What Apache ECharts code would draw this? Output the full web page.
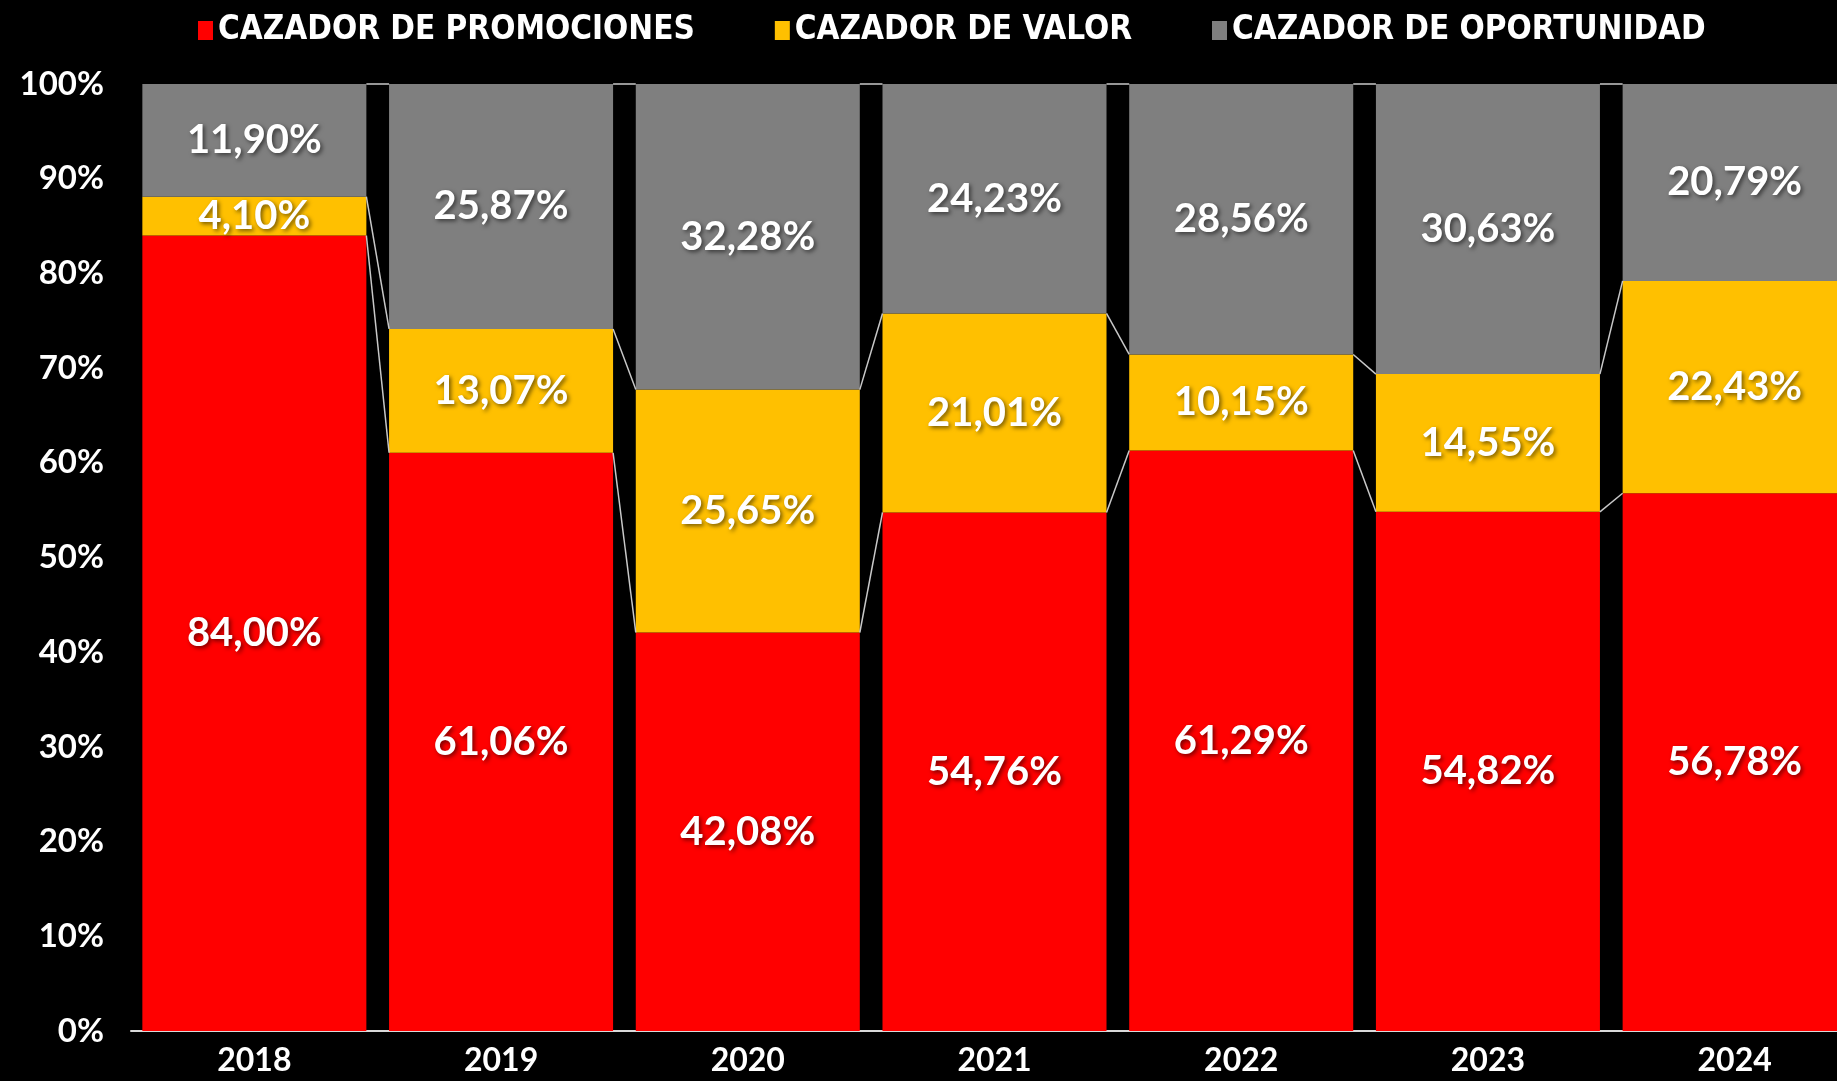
<!DOCTYPE html>
<html>
<head>
<meta charset="utf-8">
<script src="https://cdn.jsdelivr.net/npm/echarts@6/dist/echarts.min.js"></script>
<style>
  html, body { margin: 0; padding: 0; background: #000; overflow: hidden; }
  /* the plot runs past the right edge of the window, as in the original crop */
  #chart { width: 1858px; height: 1081px; }
</style>
</head>
<body>
<div id="chart"></div>
<script>
// categories and the three shares (percent of each year)
var years = ['2018', '2019', '2020', '2021', '2022', '2023', '2024']
var promociones = [84.00, 61.06, 42.08, 54.76, 61.29, 54.82, 56.78]
var valor = [4.10, 13.07, 25.65, 21.01, 10.15, 14.55, 22.43]
var oportunidad = [11.90, 25.87, 32.28, 24.23, 28.56, 30.63, 20.79]
var yTicks = [0, 10, 20, 30, 40, 50, 60, 70, 80, 90, 100]

var BAR_RATIO = 0.908

// series lines (Excel style) join the top of each segment to the next bar
var joinData = []
for (var i = 0; i < years.length - 1; i++) {
  var a1 = promociones[i], b1 = promociones[i + 1]
  var a2 = a1 + valor[i], b2 = b1 + valor[i + 1]
  joinData.push([i, a1, b1, a2, b2, 100, 100])
}

function fmt (v) {
  return v.toFixed(2).replace('.', ',') + '%'
}

var labelStyle = {
  show: true,
  position: 'inside',
  color: '#fff',
  fontFamily: 'Lato',
  fontWeight: 'bold',
  fontSize: 40,
  textShadowColor: 'rgba(0,0,0,0.55)',
  textShadowBlur: 4,
  textShadowOffsetX: 2,
  textShadowOffsetY: 2,
  formatter: function (p) { return fmt(p.value) }
}

var chart = echarts.init(document.getElementById('chart'))

var option = {
  backgroundColor: '#000',
  animation: false,
  legend: {
    left: 193,
    top: 9,
    icon: 'rect',
    itemWidth: 15,
    itemHeight: 19,
    itemGap: 80,
    textStyle: {
      color: '#fff',
      fontFamily: 'DejaVu Sans Condensed',
      fontWeight: 'bold',
      fontSize: 33
    },
    data: ['CAZADOR DE PROMOCIONES', 'CAZADOR DE VALOR', 'CAZADOR DE OPORTUNIDAD']
  },
  grid: {
    left: 131,
    right: 0,
    top: 84,
    bottom: 50
  },
  xAxis: {
    type: 'category',
    data: years,
    axisLine: { lineStyle: { color: '#d9d9d9', width: 2 } },
    axisTick: { show: false },
    axisLabel: {
      color: '#fff',
      fontFamily: 'Lato',
      fontWeight: 'bold',
      fontSize: 32,
      margin: 14
    }
  },
  yAxis: {
    type: 'value',
    min: 0,
    max: 100,
    interval: 10,
    splitLine: { show: false },
    axisLabel: {
      color: '#fff',
      fontFamily: 'Lato',
      fontWeight: 'bold',
      fontSize: 33,
      margin: 27,
      formatter: function (v) { return yTicks.indexOf(v) >= 0 ? v + '%' : '' }
    }
  },
  series: [
    {
      name: 'CAZADOR DE PROMOCIONES',
      type: 'bar',
      stack: 'total',
      barWidth: (BAR_RATIO * 100) + '%',
      itemStyle: { color: '#ff0000' },
      label: labelStyle,
      data: promociones
    },
    {
      name: 'CAZADOR DE VALOR',
      type: 'bar',
      stack: 'total',
      itemStyle: { color: '#ffc000' },
      label: labelStyle,
      data: valor
    },
    {
      name: 'CAZADOR DE OPORTUNIDAD',
      type: 'bar',
      stack: 'total',
      itemStyle: { color: '#7f7f7f' },
      label: labelStyle,
      data: oportunidad
    },
    {
      type: 'custom',
      z: 5,
      silent: true,
      encode: { x: 0, y: [1, 2, 3, 4, 5, 6] },
      data: joinData,
      renderItem: function (params, api) {
        var idx = api.value(0)
        var half = api.size([1, 0])[0] * BAR_RATIO / 2
        var kids = []
        for (var k = 1; k <= 5; k += 2) {
          var p0 = api.coord([idx, api.value(k)])
          var p1 = api.coord([idx + 1, api.value(k + 1)])
          kids.push({
            type: 'line',
            shape: { x1: p0[0] + half, y1: p0[1], x2: p1[0] - half, y2: p1[1] },
            style: { stroke: '#c8c8c8', lineWidth: 1.5 }
          })
        }
        return { type: 'group', children: kids }
      }
    }
  ]
}

chart.setOption(option)
</script>
</body>
</html>
